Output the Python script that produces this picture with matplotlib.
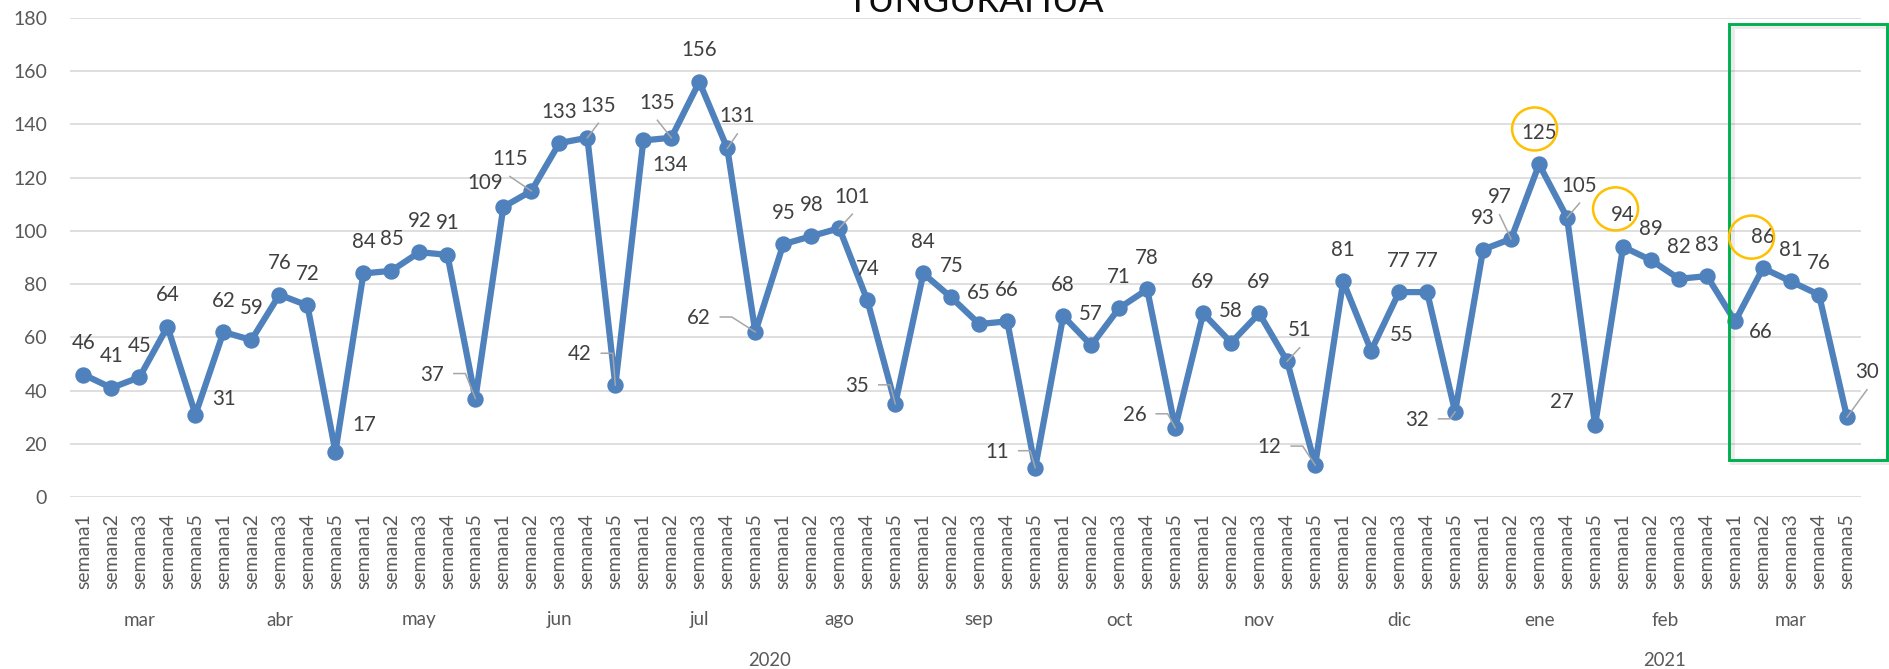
import matplotlib
matplotlib.use("Agg")
import matplotlib.pyplot as plt
from matplotlib.patches import Ellipse, Rectangle
from matplotlib.lines import Line2D
from matplotlib.transforms import IdentityTransform, blended_transform_factory

# ---------------- data ----------------
months = ['mar', 'abr', 'may', 'jun', 'jul', 'ago', 'sep', 'oct', 'nov', 'dic', 'ene', 'feb', 'mar']
weeks_per_month = [5, 5, 5, 5, 5, 5, 5, 5, 5, 5, 5, 4, 5]
years = ['2020', '2021']
months_per_year = [10, 3]
values = [46, 41, 45, 64, 31,
          62, 59, 76, 72, 17,
          84, 85, 92, 91, 37,
          109, 115, 133, 135, 42,
          134, 135, 156, 131, 62,
          95, 98, 101, 74, 35,
          84, 75, 65, 66, 11,
          68, 57, 71, 78, 26,
          69, 58, 69, 51, 12,
          81, 55, 77, 77, 32,
          93, 97, 125, 105, 27,
          94, 89, 82, 83,
          66, 86, 81, 76, 30]
week_labels = [f'semana{k + 1}' for n in weeks_per_month for k in range(n)]
title = 'TUNGURAHUA'
highlight_idx = [52, 55, 60]          # circled values
box_start_idx = 59                    # boxed period (mar 2021)

# ---------------- layout / style ----------------
W, H, DPI = 1889, 669, 100
FAM = ['Lato', 'DejaVu Sans']
LINE_C = '#4F81BD'
TICK_C = '#595959'
LBL_C = '#404040'
GRID_C = '#D9D9D9'
LEAD_C = '#A6A6A6'

# label offsets in pixels (screen: +x right, +y down); default above
DEFAULT_OFF = (0, -31.5)
label_off = {4: (29, -16), 9: (29, -27), 14: (-43, -24), 15: (-18.5, -24),
             16: (-21.5, -32), 18: (11, -32), 19: (-35.5, -31), 20: (26.5, 24.6),
             21: (-14, -35), 23: (10, -32), 24: (-56.5, -14), 27: (13, -31.5),
             29: (-38, -18), 34: (-38, -16), 39: (-40.5, -13), 43: (12.5, -31),
             44: (-45.5, -18), 46: (31, -15.6), 49: (-38, 8), 51: (-11.5, -41.6),
             53: (12.5, -32), 54: (-33, -23.5), 59: (25.5, 11), 63: (20, -45)}
leader_L = [14, 19, 24, 29, 34, 39, 44, 49]
leader_D = [16, 18, 21, 23, 27, 43, 51, 53, 63]
circle_off = {52: (-4.5, -35.4), 55: (-7.5, -38), 60: (-11.5, -31)}

fig = plt.figure(figsize=(W / DPI, H / DPI), dpi=DPI)
renderer = fig.canvas.get_renderer()


def fit(text, target_px, family=FAM):
    t = fig.text(0, 0, text, fontsize=10, family=family)
    bb = t.get_window_extent(renderer)
    t.remove()
    return 10 * target_px / bb.width


fs_data = 0.5 * (fit('86', 23.3) + 15.1)
fs_ytick = 0.5 * (fit('60', 23.5) + 13.6)
fs_week = fit('semana1', 76)
fs_month = fit('nov', 31)
fs_year = fit('2020', 43)
fs_title = fit(title, 256)

ax_left, ax_right = 69.5, 1861
ax_top, ax_bot = 18, 497
ax = fig.add_axes([ax_left / W, (H - ax_bot) / H, (ax_right - ax_left) / W, (ax_bot - ax_top) / H])

x = list(range(len(values)))
ax.plot(x, values, color=LINE_C, lw=4.5, marker='o', ms=10.8, zorder=3, solid_joinstyle='round')

ax.set_xlim(-0.5, len(values) - 0.5)
ax.set_ylim(0, 180)
ax.set_yticks(range(0, 181, 20))
ax.set_xticks(x)
ax.set_xticklabels(week_labels, rotation=90, fontsize=fs_week, color=TICK_C, family=FAM, va='top', ha='center')
for lab in ax.get_yticklabels():
    lab.set_fontsize(fs_ytick)
    lab.set_color(TICK_C)
    lab.set_family(FAM)
ax.tick_params(axis='y', length=0, pad=22.5 * 72 / DPI)
ax.tick_params(axis='x', length=0, pad=16 * 72 / DPI)
ax.grid(axis='y', color=GRID_C, lw=1.2)
ax.set_axisbelow(True)
for s in ax.spines.values():
    s.set_visible(False)

# month and year labels
trans = blended_transform_factory(ax.transData, ax.transAxes)
y_month = (ax_bot - 620) / (ax_bot - ax_top)
y_year = (ax_bot - 660) / (ax_bot - ax_top)
start = 0
for m, n in zip(months, weeks_per_month):
    ax.text(start + (n - 1) / 2, y_month, m, transform=trans, ha='center', va='center',
            fontsize=fs_month, color=TICK_C, family=FAM)
    start += n
start_m = 0
start_w = 0
for yr, nm in zip(years, months_per_year):
    nw = sum(weeks_per_month[start_m:start_m + nm])
    ax.text(start_w + (nw - 1) / 2, y_year, yr, transform=trans, ha='center', va='center',
            fontsize=fs_year, color=TICK_C, family=FAM)
    start_m += nm
    start_w += nw

# data labels
for i, v in enumerate(values):
    dx, dy = label_off.get(i, DEFAULT_OFF)
    ax.annotate(str(v), xy=(i, v), xytext=(dx, -dy), textcoords='offset pixels',
                ha='center', va='center', fontsize=fs_data, color=LBL_C, family=FAM, zorder=5)

# leader lines (display pixel coordinates)
idt = IdentityTransform()
for i in leader_L + leader_D:
    px, py = ax.transData.transform((i, values[i]))
    dx, dy = label_off[i]
    lx, ly = px + dx, py - dy
    if i in leader_L:
        xs = [lx + 21.5, lx + 33, px]
        ys = [ly + 1, ly + 1, py]
    else:
        xs = [lx, px]
        ys = [ly - 17.5, py]
    fig.add_artist(Line2D(xs, ys, transform=idt, color=LEAD_C, lw=1.1, zorder=6))

# yellow circles
for i in highlight_idx:
    px, py = ax.transData.transform((i, values[i]))
    dx, dy = circle_off[i]
    fig.add_artist(Ellipse((px + dx, py - dy), 45, 43, transform=idt, fill=False,
                           edgecolor='#FFC000', lw=1.8, zorder=7))

# green box around the last period
bx0 = box_start_idx - 0.2
bx1 = (1887 - ax_left) / ((ax_right - ax_left) / len(values)) - 0.5
by0 = (ax_bot - 460) / (ax_bot - ax_top) * 180
by1 = (ax_bot - 24) / (ax_bot - ax_top) * 180
shadow = Rectangle((bx0 + 0.08, by0 - 0.9), bx1 - bx0, by1 - by0, fill=False,
                   edgecolor='#000000', alpha=0.08, lw=3.5, clip_on=False, zorder=1)
ax.add_patch(shadow)
ax.add_patch(Rectangle((bx0, by0), bx1 - bx0, by1 - by0, fill=False,
                       edgecolor='#00B050', lw=2.1, clip_on=False, zorder=4))

# title (clipped at the top like the source)
fig.text(975 / W, 1 - 12 / H, title, ha='center', va='baseline', fontsize=fs_title,
         color='#0d0d0d', family=FAM)

fig.savefig('out.png', dpi=DPI, facecolor='white')
